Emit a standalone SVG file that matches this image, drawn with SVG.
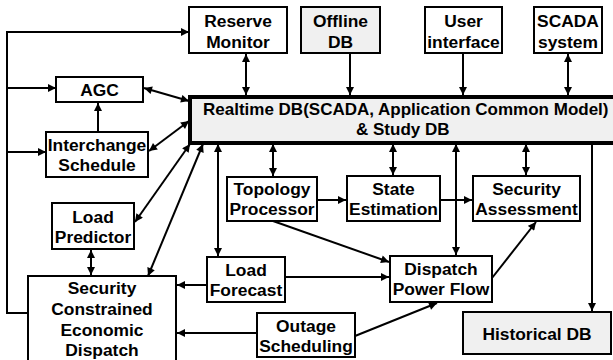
<svg xmlns="http://www.w3.org/2000/svg" width="613" height="360" viewBox="0 0 613 360">
<defs>
<marker id="ah" viewBox="0 0 10 10" refX="10" refY="5" markerWidth="9" markerHeight="8" markerUnits="userSpaceOnUse" orient="auto-start-reverse">
<path d="M0,0 L10,5 L0,10 z" fill="#000"/>
</marker>
</defs>
<style>
.box{fill:#fff;stroke:#000;stroke-width:2}
.gray{fill:#f0f0f0}
.main{fill:#f0f0f0;stroke:#000;stroke-width:4}
text{font-family:"Liberation Sans",Arial,sans-serif;font-weight:bold;font-size:17.4px;fill:#000;text-anchor:middle}
.big{font-size:17px;text-anchor:start}
.c path{fill:none;stroke:#000;stroke-width:2}
.e{marker-end:url(#ah)}
.d{marker-start:url(#ah);marker-end:url(#ah)}
</style>
<rect width="613" height="360" fill="#fff"/>
<g class="c" id="connectors">
<path class="e" d="M28,313 H7 V32 H189"/>
<path class="e" d="M7,88 H56"/>
<path class="e" d="M7,152 H46"/>
<path class="d" d="M246,54 V95"/>
<path class="e" d="M350,53 V95"/>
<path class="e" d="M463,53 V95"/>
<path class="d" d="M568,54 V95"/>
<path class="d" d="M144,88 L189,101"/>
<path class="d" d="M149,151 L189,121"/>
<path class="e" d="M98,132 V103"/>
<path class="d" d="M190,144 L135,222"/>
<path class="d" d="M203,144 L148,276"/>
<path class="d" d="M218,144 V256"/>
<path class="d" d="M91,250 V275"/>
<path class="e" d="M207,285 H177"/>
<path class="e" d="M257,333 H177"/>
<path class="e" d="M273,221 L389,262"/>
<path class="e" d="M285,277 H389"/>
<path class="e" d="M355,336 L437,303"/>
<path class="e" d="M492,278 L536,222"/>
<path class="d" d="M456,144 V255"/>
<path class="d" d="M273,144 V176"/>
<path class="d" d="M393,144 V175"/>
<path class="d" d="M526,144 V175"/>
<path class="e" d="M317,200 H346"/>
<path class="e" d="M440,200 H472"/>
<path class="e" d="M592,143 V311"/>
</g>
<g id="realtime-db">
<rect class="main" x="190" y="97" width="430" height="46"/>
<text class="big" x="203" y="115">Realtime DB(SCADA, Application Common Model)</text>
<text class="big" x="356" y="135">&amp; Study DB</text>
</g>
<g id="reserve-monitor">
<rect class="box" x="189" y="7" width="98" height="46"/>
<text x="238" y="27">Reserve</text><text x="238" y="48">Monitor</text>
</g>
<g id="offline-db">
<rect class="box gray" x="301" y="7" width="79" height="46"/>
<text x="340.5" y="27">Offline</text><text x="340.5" y="48">DB</text>
</g>
<g id="user-interface">
<rect class="box" x="425" y="7" width="77" height="46"/>
<text x="463.5" y="27">User</text><text x="463.5" y="48">interface</text>
</g>
<g id="scada-system">
<rect class="box" x="534" y="7" width="68" height="46"/>
<text x="568" y="27">SCADA</text><text x="568" y="48">system</text>
</g>
<g id="agc">
<rect class="box" x="56" y="77" width="87" height="25"/>
<text x="99.5" y="96">AGC</text>
</g>
<g id="interchange-schedule">
<rect class="box" x="46" y="132" width="102" height="45"/>
<text x="97" y="151">Interchange</text><text x="97" y="171">Schedule</text>
</g>
<g id="load-predictor">
<rect class="box" x="52" y="203" width="82" height="46"/>
<text x="93" y="223">Load</text><text x="93" y="243">Predictor</text>
</g>
<g id="sced">
<rect class="box" x="28" y="276" width="148" height="90"/>
<text x="102" y="294">Security</text><text x="102" y="315">Constrained</text><text x="102" y="336">Economic</text><text x="102" y="356">Dispatch</text>
</g>
<g id="load-forecast">
<rect class="box" x="207" y="257" width="78" height="45"/>
<text x="246" y="276">Load</text><text x="246" y="296">Forecast</text>
</g>
<g id="outage-scheduling">
<rect class="box" x="257" y="313" width="98" height="44"/>
<text x="306" y="332">Outage</text><text x="306" y="352">Scheduling</text>
</g>
<g id="topology-processor">
<rect class="box" x="227" y="177" width="90" height="44"/>
<text x="272" y="195">Topology</text><text x="272" y="215">Processor</text>
</g>
<g id="state-estimation">
<rect class="box" x="347" y="176" width="93" height="45"/>
<text x="393.5" y="195">State</text><text x="393.5" y="215">Estimation</text>
</g>
<g id="security-assessment">
<rect class="box" x="473" y="176" width="107" height="45"/>
<text x="526.5" y="195">Security</text><text x="526.5" y="215">Assessment</text>
</g>
<g id="dispatch-power-flow">
<rect class="box" x="390" y="256" width="102" height="46"/>
<text x="441" y="275">Dispatch</text><text x="441" y="295">Power Flow</text>
</g>
<g id="historical-db">
<rect class="box gray" x="463" y="312" width="148" height="42"/>
<text x="537" y="340">Historical DB</text>
</g>
</svg>
